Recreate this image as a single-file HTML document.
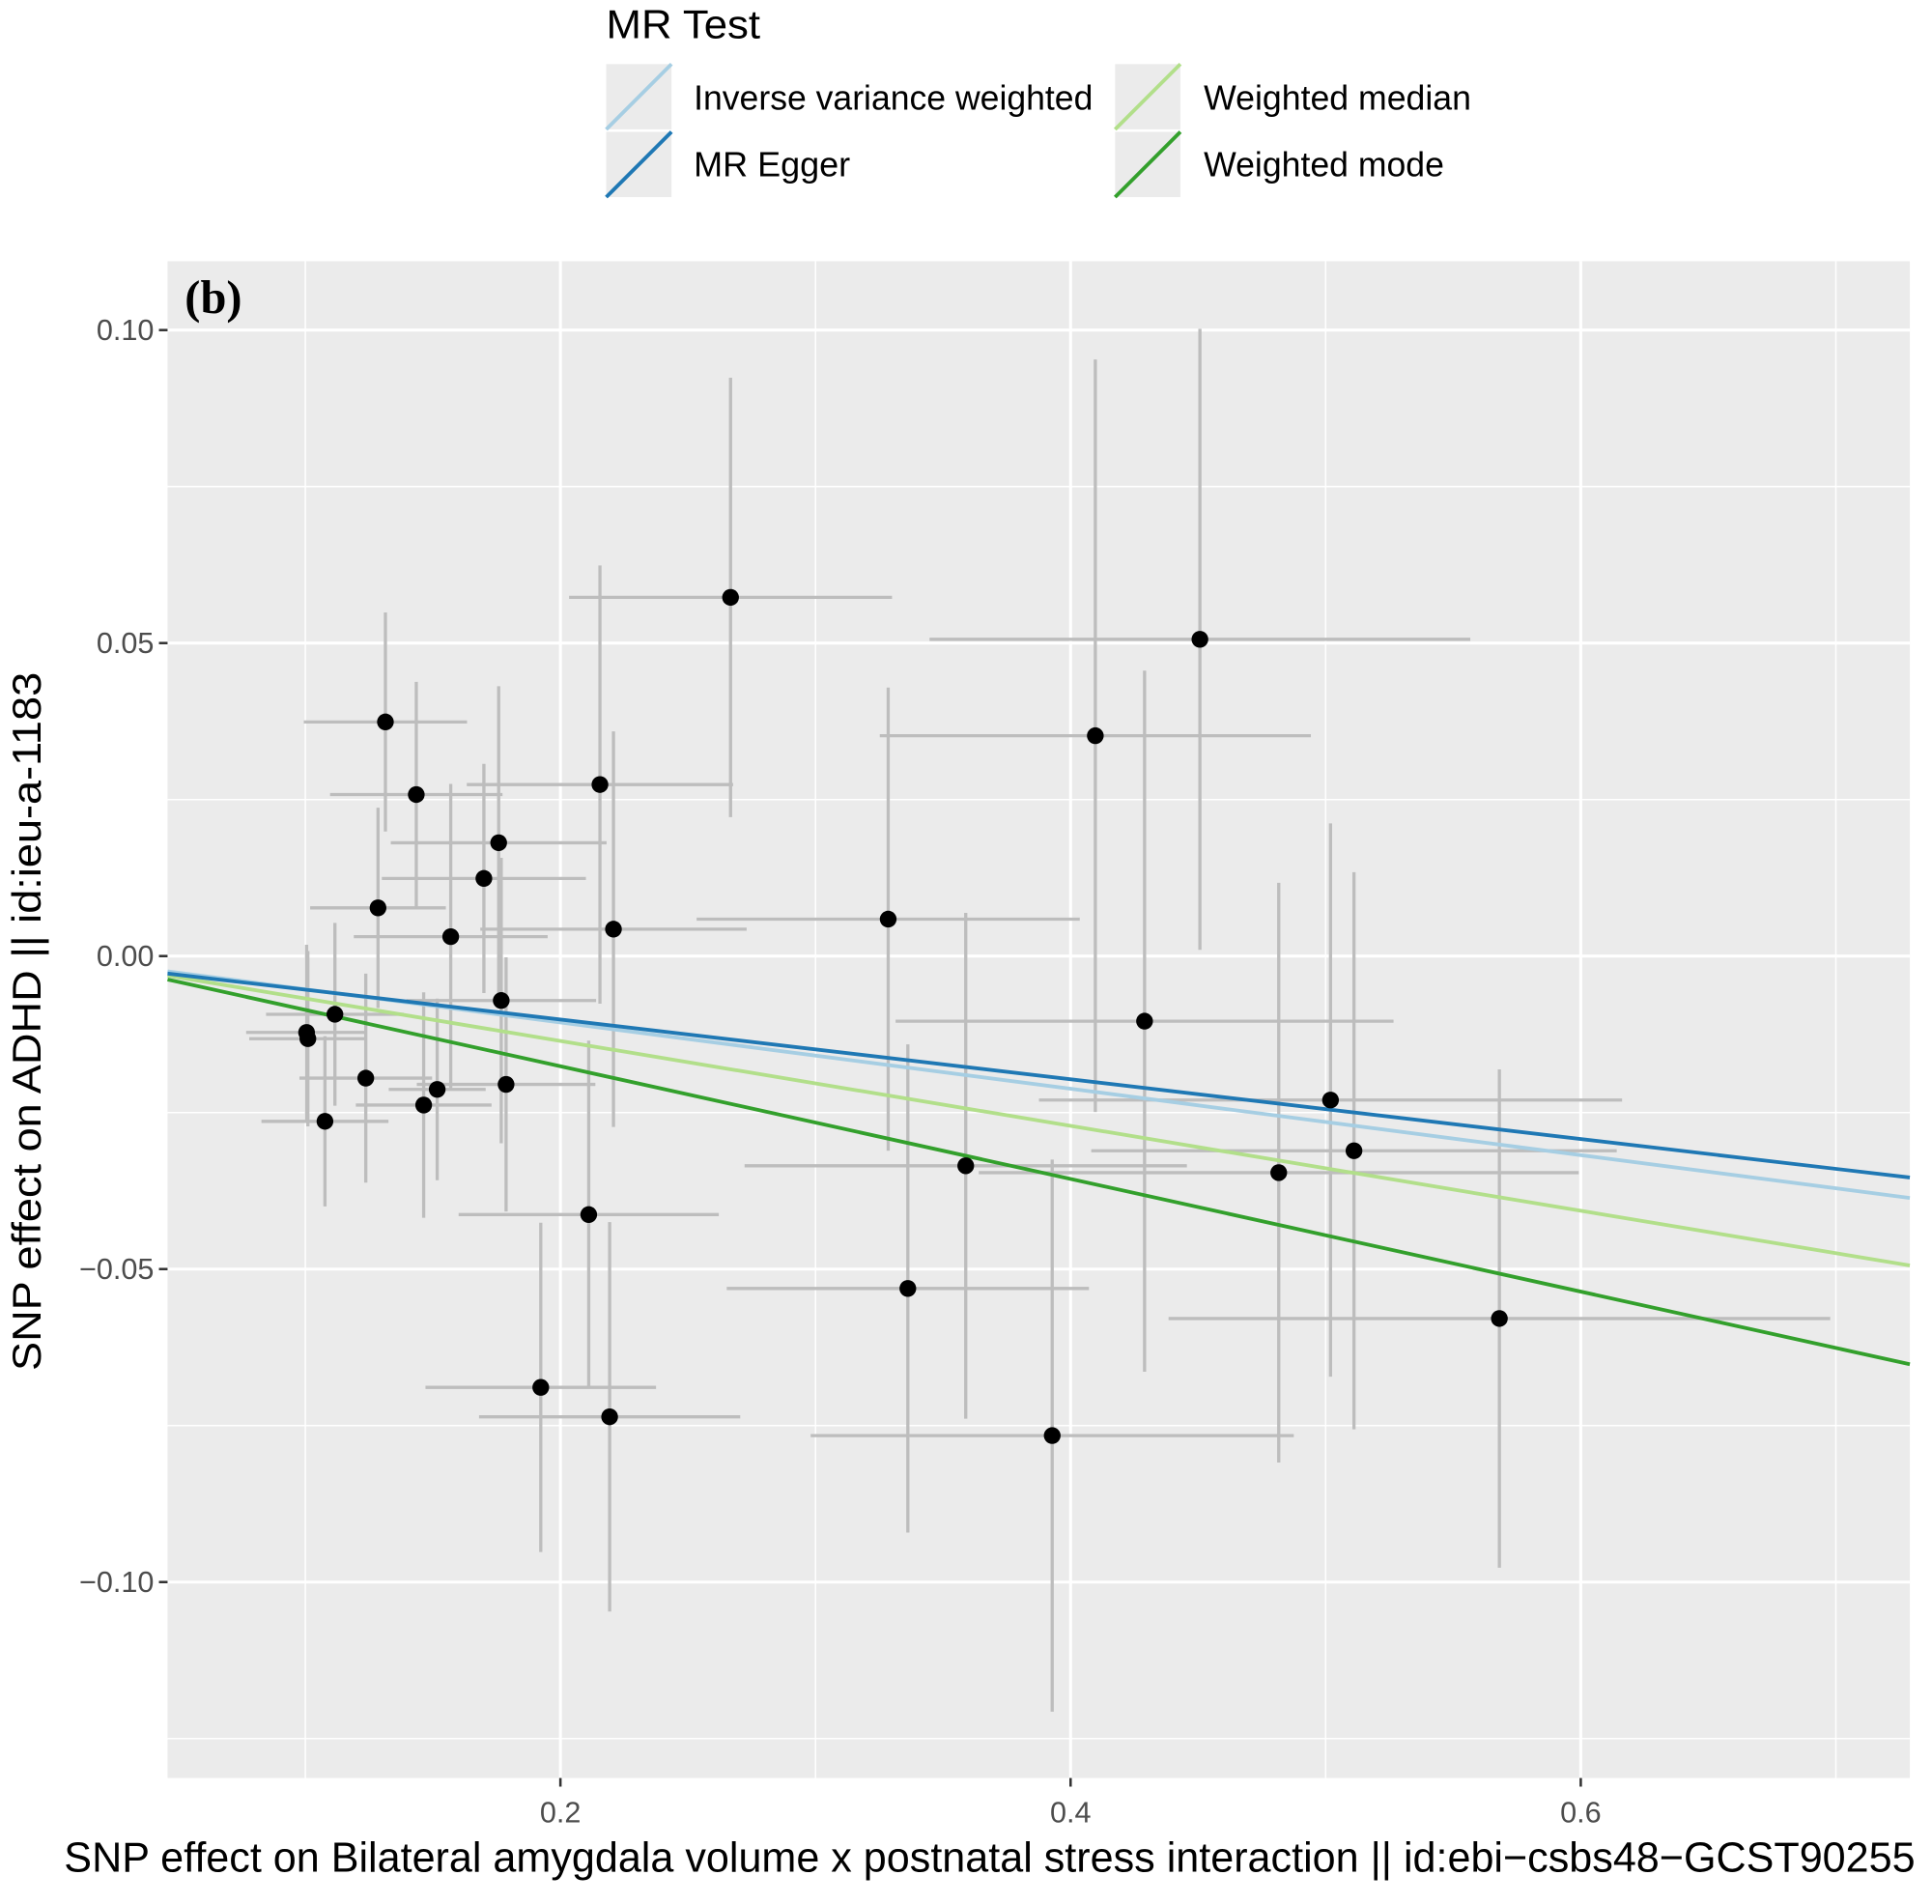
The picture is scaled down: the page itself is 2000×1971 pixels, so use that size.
<!DOCTYPE html>
<html><head><meta charset="utf-8"><style>
html,body{margin:0;padding:0;background:#fff;}
svg{display:block;}
text{font-family:"Liberation Sans",Arial,sans-serif;}
</style></head><body>
<svg id="chart" width="2000" height="1971" viewBox="0 0 1568 1545.26" xmlns="http://www.w3.org/2000/svg">
<rect x="0" y="0" width="1568" height="1546" fill="#fff"/>
<g>
<text x="492" y="31" font-size="33" fill="#000" textLength="125" lengthAdjust="spacingAndGlyphs">MR Test</text>
<g><rect x="492" y="52" width="53" height="53" fill="#ebebeb"/><line x1="492" y1="105" x2="545" y2="52" stroke="#a6cee3" stroke-width="3"/><text x="563" y="89" font-size="28" textLength="324" lengthAdjust="spacingAndGlyphs">Inverse variance weighted</text></g>
<g><rect x="492" y="107" width="53" height="53" fill="#ebebeb"/><line x1="492" y1="160" x2="545" y2="107" stroke="#1f78b4" stroke-width="3"/><text x="563" y="143" font-size="28" textLength="127" lengthAdjust="spacingAndGlyphs">MR Egger</text></g>
<g><rect x="905" y="52" width="53" height="53" fill="#ebebeb"/><line x1="905" y1="105" x2="958" y2="52" stroke="#b2df8a" stroke-width="3"/><text x="977" y="89" font-size="28" textLength="217" lengthAdjust="spacingAndGlyphs">Weighted median</text></g>
<g><rect x="905" y="107" width="53" height="53" fill="#ebebeb"/><line x1="905" y1="160" x2="958" y2="107" stroke="#33a02c" stroke-width="3"/><text x="977" y="143" font-size="28" textLength="195" lengthAdjust="spacingAndGlyphs">Weighted mode</text></g>
</g>
<rect x="136" y="212" width="1414" height="1231" fill="#ebebeb"/>
<g id="grid"></g>
<g id="bars"></g>
<g id="lines"></g>
<g id="pts"></g>
<g id="axes"></g>
<text x="150" y="254" font-size="38" font-weight="bold" style="font-family:'Liberation Serif',serif">(b)</text>
<text transform="translate(33,829) rotate(-90)" text-anchor="middle" font-size="33" fill="#000" textLength="567" lengthAdjust="spacingAndGlyphs">SNP effect on ADHD || id:ieu-a-1183</text>
<text x="52" y="1519" font-size="33.8" fill="#000">SNP effect on Bilateral amygdala volume x postnatal stress interaction || id:ebi−csbs48−GCST90255</text>
</svg>
<script>
const snpX=[0.1005,0.101,0.1077,0.1116,0.1237,0.1285,0.1314,0.1435,0.1464,0.1517,0.157,0.17,0.1758,0.1768,0.1787,0.1923,0.2111,0.2155,0.2208,0.2193,0.2667,0.3285,0.3362,0.3589,0.3928,0.4097,0.429,0.4507,0.4816,0.5019,0.5111,0.5681];
const snpY=[-0.0122,-0.0132,-0.0264,-0.0093,-0.0195,0.0077,0.0374,0.0258,-0.0238,-0.0213,0.0031,0.0124,0.0181,-0.0071,-0.0205,-0.0689,-0.0413,0.0274,0.0043,-0.0736,0.0573,0.0059,-0.0531,-0.0335,-0.0766,0.0352,-0.0104,0.0506,-0.0346,-0.023,-0.0311,-0.0579];
const errX=[0.0237,0.023,0.0249,0.027,0.026,0.0266,0.032,0.0338,0.0266,0.019,0.038,0.04,0.0423,0.0372,0.035,0.0452,0.051,0.0522,0.0522,0.0512,0.0633,0.0751,0.071,0.0867,0.0947,0.0845,0.0976,0.106,0.1176,0.1143,0.103,0.1297];
const errY=[0.014,0.014,0.0136,0.0146,0.0167,0.016,0.0175,0.018,0.018,0.0145,0.0244,0.0183,0.025,0.0228,0.0203,0.0263,0.0278,0.035,0.0316,0.0311,0.0351,0.037,0.039,0.0404,0.0441,0.0601,0.056,0.0496,0.0463,0.0442,0.0445,0.0398];
const methods=["Inverse variance weighted","MR Egger","Weighted median","Weighted mode"];
const slopes=[-0.053,-0.0477,-0.0678,-0.090];
const intercepts=[0,-0.0006,0,0.0004];
const xTicks=[0.2,0.4,0.6];
const xTickLabels=["0.2","0.4","0.6"];
const xMinor=[0.1,0.3,0.5,0.7];
const yTicks=[0.10,0.05,0.00,-0.05,-0.10];
const yTickLabels=["0.10","0.05","0.00","−0.05","−0.10"];
const yMinor=[0.075,0.025,-0.025,-0.075,-0.125];

const L=136,R=1550,T=212,B=1443;
const X0=0.046,X1=0.729,Y0=-0.1313,Y1=0.111;
const sx=v=>L+(v-X0)/(X1-X0)*(R-L);
const sy=v=>B-(v-Y0)/(Y1-Y0)*(B-T);
const NS="http://www.w3.org/2000/svg";
function mk(tag,attrs,parent){const e=document.createElementNS(NS,tag);for(const k in attrs)e.setAttribute(k,attrs[k]);parent.appendChild(e);return e;}
const grid=document.getElementById('grid'),bars=document.getElementById('bars'),lines=document.getElementById('lines'),pts=document.getElementById('pts'),axes=document.getElementById('axes');
xMinor.forEach(v=>{const e=mk('line',{x1:sx(v),x2:sx(v),y1:T,y2:B,stroke:'#fff','stroke-width':1.2},grid);

});
yMinor.forEach(v=>{const e=mk('line',{x1:L,x2:R,y1:sy(v),y2:sy(v),stroke:'#fff','stroke-width':1.2},grid);

});
xTicks.forEach((v,i)=>{const e=mk('line',{x1:sx(v),x2:sx(v),y1:T,y2:B,stroke:'#fff','stroke-width':2.4},grid);


const t=mk('line',{x1:sx(v),x2:sx(v),y1:B,y2:B+7,stroke:'#333','stroke-width':2},axes);


const l=mk('text',{x:sx(v),y:B+36,'text-anchor':'middle','font-size':24,fill:'#4d4d4d'},axes);l.textContent=xTickLabels[i];

});
yTicks.forEach((v,i)=>{const e=mk('line',{x1:L,x2:R,y1:sy(v),y2:sy(v),stroke:'#fff','stroke-width':2.4},grid);


const t=mk('line',{x1:L-7,x2:L,y1:sy(v),y2:sy(v),stroke:'#333','stroke-width':2},axes);


const l=mk('text',{x:L-11,y:sy(v)+8,'text-anchor':'end','font-size':24,fill:'#4d4d4d'},axes);l.textContent=yTickLabels[i];

});
snpX.forEach((x,i)=>{const y=snpY[i];
const h=mk('line',{x1:sx(x-errX[i]),x2:sx(x+errX[i]),y1:sy(y),y2:sy(y),stroke:'#bdbdbd','stroke-width':2.6},bars);


const v=mk('line',{x1:sx(x),x2:sx(x),y1:sy(y-errY[i]),y2:sy(y+errY[i]),stroke:'#bdbdbd','stroke-width':2.6},bars);

});
const colors=['#a6cee3','#1f78b4','#b2df8a','#33a02c'];
const order=[2,3,0,1];
order.forEach(i=>{const l=mk('line',{x1:L,x2:R,y1:sy(intercepts[i]+slopes[i]*X0),y2:sy(intercepts[i]+slopes[i]*X1),stroke:colors[i],'stroke-width':3},lines);

});
snpX.forEach((x,i)=>{const c=mk('circle',{cx:sx(x),cy:sy(snpY[i]),r:6.8,fill:'#000'},pts);

});
</script>
</body></html>
